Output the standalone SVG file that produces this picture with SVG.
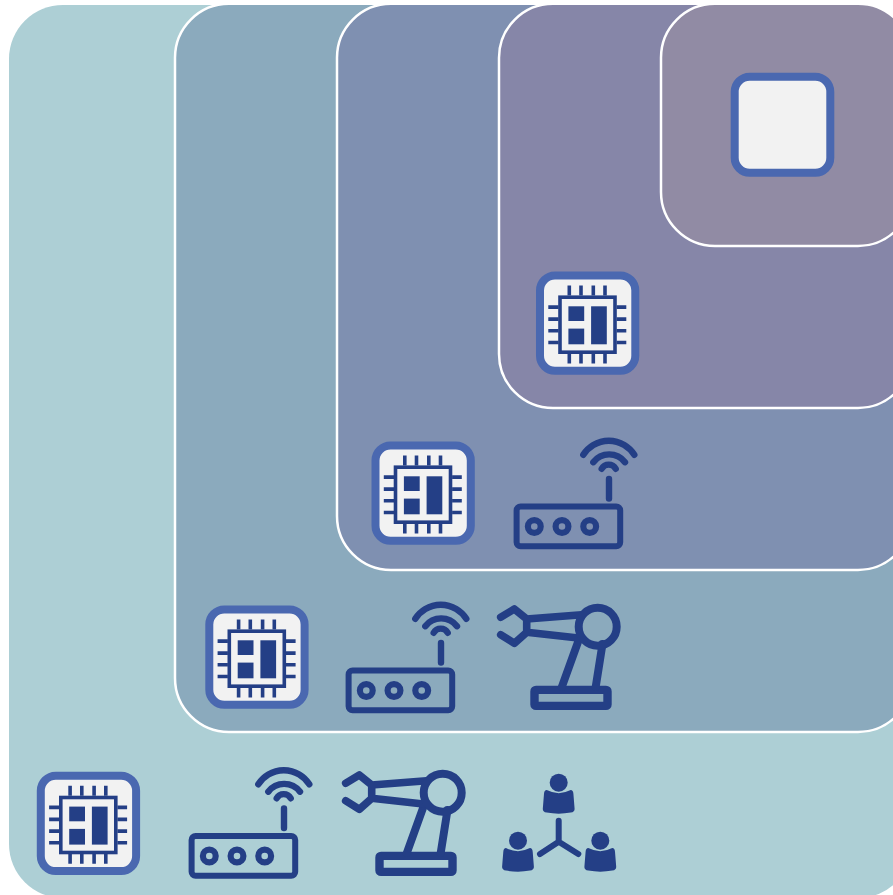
<svg xmlns="http://www.w3.org/2000/svg" xmlns:xlink="http://www.w3.org/1999/xlink" width="893" height="895" viewBox="0 0 893 895">
<style>
.panel{stroke:#fff;stroke-width:2.5}
.frame{fill:#f2f2f2;stroke:#4a68b0;stroke-width:8}
.ln{fill:none;stroke:#243f86;stroke-linecap:round;stroke-linejoin:round}
.solid{fill:#243f86}
</style>
<defs>
<g id="chip">
<rect class="frame" x="4" y="4" width="95.3" height="95.3" rx="15"/>
<rect x="24" y="25.7" width="55" height="55" fill="none" stroke="#243f86" stroke-width="3.6"/>
<path d="M33.3 14V24M45 14V24M57.3 14V24M69 14V24M33.3 82V92M45 82V92M57.3 82V92M69 82V92M12.3 35.6H22.6M12.3 47.6H22.6M12.3 59.3H22.6M12.3 71H22.6M80.6 35.6H90.3M80.6 47.6H90.3M80.6 59.3H90.3M80.6 71H90.3" fill="none" stroke="#243f86" stroke-width="3.6"/>
<rect class="solid" x="32.4" y="34.8" width="15.8" height="14.7"/>
<rect class="solid" x="32.4" y="57.1" width="15.8" height="15.7"/>
<rect class="solid" x="55.1" y="34.8" width="15.7" height="38"/>
</g>
<g id="router">
<rect class="ln" x="191.6" y="836" width="103.6" height="39.8" rx="4" stroke-width="6"/>
<circle class="ln" cx="209.3" cy="856" r="6.4" stroke-width="6.2"/>
<circle class="ln" cx="237" cy="856" r="6.4" stroke-width="6.2"/>
<circle class="ln" cx="264.7" cy="856" r="6.4" stroke-width="6.2"/>
<path class="ln" stroke-width="6.4" d="M284 808.5V828"/>
<path class="ln" stroke-width="6.4" d="M258.3 784.3A30.2 30.2 0 0 1 309.3 784.3M268.3 791.7A20 20 0 0 1 300 791.7M276.7 798.3A8 8 0 0 1 290.7 798.3"/>
</g>
<g id="robot">
<rect class="ln" x="379.5" y="855.9" width="73" height="16" rx="1.5" stroke-width="8.4"/>
<path class="ln" stroke-width="8" stroke-linecap="butt" d="M406.8 853L423 808M440.7 853L447.5 810"/>
<path class="ln" stroke-width="7.6" d="M345.7 783.3L359.3 775L371.7 785V798.3L359.3 809.3L345.7 800.7M371.7 785L426.7 780.7M371.7 798.3L423.3 804"/>
<circle cx="442.7" cy="792.7" r="19" fill="none" stroke="#243f86" stroke-width="8"/>
</g>
<g id="person">
<circle class="solid" r="9"/>
<path class="solid" d="M-12 7.4Q0 13.5 12 7.4Q14.4 7.6 14.7 11L15.9 26Q16.1 29.2 12 29.9Q0 32-12 29.9Q-16.1 29.2-15.9 26L-14.7 11Q-14.4 7.6-12 7.4Z"/>
</g>
</defs>
<g id="connectors"/>
<g id="level-1"><rect x="9" y="5" width="903" height="893" rx="54" fill="#adcfd5"/></g>
<g id="level-2"><rect class="panel" x="175" y="3.7" width="737" height="728.3" rx="54" fill="#8baabd"/></g>
<g id="level-3"><rect class="panel" x="337" y="3.7" width="575" height="566.3" rx="54" fill="#7f90b1"/></g>
<g id="level-4"><rect class="panel" x="499" y="3.7" width="413" height="404.3" rx="54" fill="#8686a8"/></g>
<g id="level-5"><rect class="panel" x="661" y="3.7" width="251" height="242.3" rx="54" fill="#918ba4"/></g>
<g id="chip-1"><use xlink:href="#chip" href="#chip" x="36.8" y="771.8"/></g>
<g id="router-1"><use xlink:href="#router" href="#router"/></g>
<g id="robot-1"><use xlink:href="#robot" href="#robot"/></g>
<g id="people-1">
<use xlink:href="#person" href="#person" x="558.7" y="782.7"/>
<use xlink:href="#person" href="#person" x="518" y="840.7"/>
<use xlink:href="#person" href="#person" x="600.3" y="840.7"/>
<path class="ln" stroke-width="6" d="M558.7 820.7V841.7L540 854M558.7 841.7L578.3 854"/>
</g>
<g id="chip-2"><use xlink:href="#chip" href="#chip" x="205.3" y="605.5"/></g>
<g id="router-2"><use xlink:href="#router" href="#router" x="157" y="-165.5"/></g>
<g id="robot-2"><use xlink:href="#robot" href="#robot" x="155" y="-166"/></g>
<g id="chip-3"><use xlink:href="#chip" href="#chip" x="371.5" y="441.5"/></g>
<g id="router-3"><use xlink:href="#router" href="#router" x="325" y="-329.5"/></g>
<g id="chip-4"><use xlink:href="#chip" href="#chip" x="536" y="271.5"/></g>
<g id="chip-5"><rect class="frame" x="734.7" y="76.7" width="95.6" height="96" rx="15"/></g>
</svg>
